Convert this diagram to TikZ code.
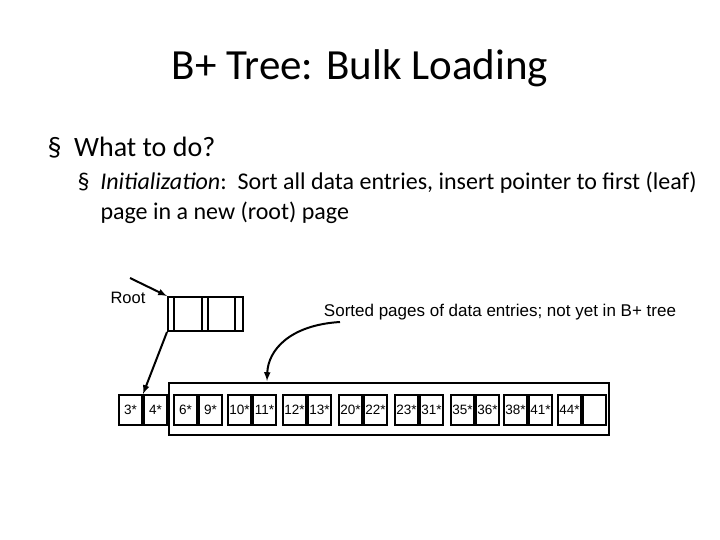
\documentclass[tikz,border=0pt]{standalone}
\usepackage{fontspec}
\setmainfont{Carlito}
\newfontfamily\arialf{Liberation Sans}
\begin{document}
\begin{tikzpicture}[x=1pt,y=-1pt,
  bx/.style={draw,line width=2pt,minimum width=23pt,minimum height=30pt,inner sep=0pt,font=\arialf\fontsize{13.5}{13.5}\selectfont},
  ar/.style={-latex,line width=2pt}]
\useasboundingbox (0,0) rectangle (720,540);
\node (title) at (360,68) {\fontsize{43}{46}\selectfont B+ Tree: Bulk Loading};
\node[anchor=west] (b1) at (44,148) {\fontsize{28}{30}\selectfont § \ What to do?};
\node[anchor=west] (b2) at (74,183) {\fontsize{24}{28}\selectfont § \ \textit{Initialization}:\ \ Sort all data entries, insert pointer to first (leaf)};
\node[anchor=west] (b3) at (97,213) {\fontsize{24}{28}\selectfont page in a new (root) page};
% root
\node[draw,line width=2pt,minimum width=75pt,minimum height=34pt,inner sep=0pt] (root) at (205.5,314) {};
\draw[line width=2pt] (174,297)--(174,331) (202,297)--(202,331) (208,297)--(208,331) (235,297)--(235,331);
\node[font=\arialf\fontsize{16.5}{16.5}\selectfont] (rl) at (128,298) {Root};
\coordinate (rs) at (130,278);
\draw[ar] (rs) -- (root.north west);
% big rect
\node[draw,line width=2pt,minimum width=440pt,minimum height=52pt,inner sep=0pt] (big) at (389,409) {};
\node[font=\arialf\fontsize{17}{17}\selectfont] (sl) at (500,312) {Sorted pages of data entries; not yet in B+ tree};
% leaves
\foreach \n/\x/\a/\b in {p0/118/3*/4*,p1/173/6*/9*,p2/227/10*/11*,p3/282/12*/13*,p4/338/20*/22*,p5/394/23*/31*,p6/450/35*/36*,p7/503/38*/41*,p8/557/44*/{}}{
  \node[bx,anchor=north west] (\n a) at (\x,394) {\a};
  \node[bx,anchor=west] (\n b) at (\n a.east) {\b};
}
\draw[ar] (root.south west) -- (p0b.north west);
\coordinate (cs) at (340,322);
\draw[ar] (cs) .. controls (290,325) and (268,350) .. (267,381);
\end{tikzpicture}
\end{document}
